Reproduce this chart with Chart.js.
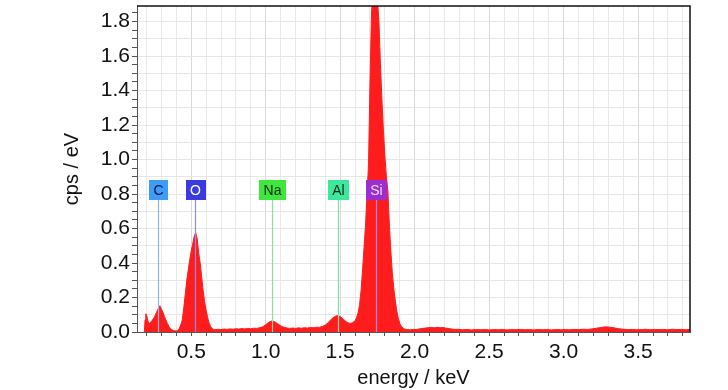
<!DOCTYPE html>
<html><head><meta charset="utf-8">
<script src="https://cdn.jsdelivr.net/npm/chart.js@4/dist/chart.umd.min.js"></script>
<style>html,body{margin:0;padding:0;background:#fff;}#wrap{width:728px;height:390px;}</style>
</head><body><div id="wrap"><canvas id="c" width="728" height="390"></canvas></div>
<script>
// ---- data ----
const energy = [
0.185,0.19,0.195,0.20,0.205,0.21,0.22,0.23,0.24,0.25,0.26,0.27,0.28,0.29,0.30,0.31,0.32,0.33,0.34,0.35,
0.36,0.37,0.38,0.39,0.40,0.41,0.42,0.43,0.44,0.45,0.46,0.47,0.48,0.49,0.50,0.51,0.52,0.53,0.54,0.55,
0.56,0.57,0.58,0.59,0.60,0.61,0.62,0.63,0.64,0.65,0.66,
0.68,0.70,0.72,0.74,0.76,0.78,0.80,0.82,0.84,0.86,0.88,0.90,0.92,0.94,0.96,
0.98,1.00,1.02,1.04,1.06,1.08,1.10,1.12,1.14,1.16,
1.18,1.20,1.22,1.24,1.26,1.28,1.30,1.32,1.34,1.36,1.38,1.40,
1.42,1.44,1.46,1.48,1.50,1.52,1.54,1.56,1.58,1.60,1.61,1.62,1.63,1.64,1.65,1.66,1.67,1.68,1.69,1.70,
1.71,1.72,1.73,1.74,1.75,1.76,1.77,1.78,1.79,1.80,1.81,1.82,1.83,1.84,1.85,1.86,1.87,1.88,1.89,1.90,
1.91,1.92,1.93,1.95,1.97,1.99,
2.01,2.03,2.05,2.07,2.09,2.11,2.13,2.15,2.17,2.19,2.21,2.23,2.25,2.27,2.29,2.32,2.35,2.38,2.41,2.44,
2.47,2.50,2.53,2.56,2.59,2.62,2.65,2.68,2.71,2.74,2.77,2.80,2.83,2.86,2.89,2.92,2.95,2.98,3.01,3.04,
3.07,3.10,3.13,3.16,3.19,3.22,3.25,3.28,3.31,3.34,3.37,3.40,3.43,3.46,3.49,3.52,3.55,3.58,3.61,3.64,
3.67,3.70,3.73,3.76,3.79,3.82,3.85
];
const cps = [
0.0,0.07,0.105,0.10,0.08,0.062,0.05,0.058,0.07,0.082,0.10,0.12,0.138,0.152,0.132,0.115,0.09,0.07,0.05,0.033,
0.02,0.013,0.009,0.007,0.006,0.01,0.02,0.042,0.07,0.14,0.22,0.30,0.36,0.42,0.47,0.51,0.555,0.575,0.54,0.46,
0.40,0.32,0.24,0.175,0.125,0.085,0.052,0.032,0.021,0.015,0.013,
0.016,0.014,0.017,0.015,0.018,0.016,0.019,0.017,0.020,0.018,0.021,0.019,0.022,0.021,0.025,
0.030,0.042,0.056,0.064,0.060,0.048,0.036,0.028,0.024,0.021,
0.023,0.021,0.024,0.022,0.025,0.023,0.026,0.025,0.028,0.027,0.032,0.040,
0.055,0.074,0.088,0.095,0.090,0.075,0.060,0.050,0.052,0.065,0.085,0.11,0.16,0.24,0.36,0.49,0.62,0.80,0.97,1.45,
1.85,1.97,2.03,2.00,1.93,1.80,1.55,1.35,1.17,1.02,0.90,0.82,0.62,0.47,0.34,0.25,0.18,0.12,0.08,0.05,
0.034,0.024,0.018,0.014,0.013,0.015,
0.014,0.018,0.020,0.023,0.025,0.027,0.024,0.027,0.025,0.026,0.022,0.020,0.017,0.015,0.016,0.013,0.015,0.012,0.014,0.013,
0.015,0.012,0.014,0.013,0.015,0.012,0.014,0.013,0.015,0.013,0.014,0.012,0.015,0.013,0.014,0.012,0.015,0.013,0.014,0.013,
0.015,0.014,0.016,0.015,0.018,0.022,0.026,0.030,0.028,0.024,0.019,0.016,0.014,0.015,0.013,0.014,0.016,0.013,0.015,0.014,
0.015,0.013,0.016,0.014,0.015,0.013,0.015
];
const elementLabels = ['C','O','Na','Al','Si'];
const elementEnergies = [0.277,0.525,1.041,1.486,1.740];
const labelLevel = 0.823;
const boxColors = ['#3d9df2','#3a3ae0','#3ee63e','#3de89a','#9a2ed0'];
const textColors = ['#10105a','#ffffff','#0a2a0a','#0a2a1a','#f6dcff'];
const lineColors = ['#8cb8e0','#8c8ce8','#8ddc9c','#7edcb0','#c58ae0'];
const xRange = [0.136, 3.848];
const yRange = [0, 1.89];
const xLabelStep = 0.5, yLabelStep = 0.2;

const FONT = "'Liberation Sans', Arial, sans-serif";
const isMult = (v, s) => Math.abs(v / s - Math.round(v / s)) < 1e-6;

const markerPlugin = {
  id: 'markers',
  afterDatasetsDraw(chart) {
    const {ctx, scales: {x, y}} = chart;
    ctx.save();
    ctx.font = "14px 'Liberation Sans', Arial, sans-serif";
    ctx.textAlign = 'center';
    ctx.textBaseline = 'middle';
    elementLabels.forEach((lab, i) => {
      const px = Math.round(x.getPixelForValue(elementEnergies[i])) + 0.5;
      const py = y.getPixelForValue(labelLevel);
      const w = Math.round(ctx.measureText(lab).width + 9);
      const h = 20;
      ctx.strokeStyle = lineColors[i];
      ctx.lineWidth = 1.2;
      ctx.beginPath();
      ctx.moveTo(px, py + h / 2);
      ctx.lineTo(px, y.getPixelForValue(0));
      ctx.stroke();
      ctx.fillStyle = boxColors[i];
      ctx.fillRect(Math.round(px - w / 2), Math.round(py - h / 2), w, h);
      ctx.fillStyle = textColors[i];
      ctx.fillText(lab, px, py + 1);
    });
    ctx.restore();
  },
  afterDraw(chart) {
    const {ctx, chartArea: a} = chart;
    ctx.save();
    ctx.strokeStyle = '#111';
    ctx.lineWidth = 1.5;
    ctx.beginPath();
    ctx.moveTo(a.left, a.top);
    ctx.lineTo(a.right, a.top);
    ctx.lineTo(a.right, a.bottom);
    ctx.stroke();
    ctx.restore();
  }
};

new Chart(document.getElementById('c'), {
  type: 'line',
  data: {
    datasets: [{
      data: energy.map((e, i) => ({x: e, y: cps[i]})),
      borderColor: 'rgb(255,28,28)',
      backgroundColor: 'rgb(255,28,28)',
      borderWidth: 1,
      pointRadius: 0,
      fill: 'origin',
      tension: 0
    }]
  },
  options: {
    responsive: false,
    animation: false,
    devicePixelRatio: 1,
    layout: {padding: {top: 6, right: 38, left: 0, bottom: 0}},
    plugins: {legend: {display: false}, tooltip: {enabled: false}},
    scales: {
      x: {
        type: 'linear',
        min: xRange[0], max: xRange[1],
        afterBuildTicks: (axis) => {
          const t = [];
          for (let k = 2; k <= 38; k++) t.push({value: k / 10});
          axis.ticks = t;
        },
        afterFit: (s) => { s.height = 58; s.paddingLeft = 0; s.paddingRight = 0; },
        grid: {
          color: (c) => c.tick && isMult(c.tick.value, xLabelStep) ? '#d9d9d9' : '#e9e9e9',
          tickColor: '#555',
          tickLength: 4,
          lineWidth: 1
        },
        border: {color: '#555', width: 1},
        ticks: {
          autoSkip: false, maxRotation: 0,
          padding: 4,
          color: '#111',
          font: {family: FONT, size: 21},
          callback: (v) => isMult(v, xLabelStep) ? Number(v).toFixed(1) : ''
        },
        title: {display: true, text: 'energy / keV', color: '#111',
          font: {family: FONT, size: 20}, padding: {top: 0, bottom: 0}}
      },
      y: {
        type: 'linear',
        min: yRange[0], max: yRange[1],
        afterBuildTicks: (axis) => {
          const t = [];
          for (let k = 0; k <= 37; k++) t.push({value: k * 0.05});
          axis.ticks = t;
        },
        afterFit: (s) => { s.width = 137; s.paddingTop = 0; s.paddingBottom = 0; },
        grid: {
          color: (c) => c.tick && isMult(c.tick.value, 0.1) ? '#e6e6e6' : 'rgba(0,0,0,0)',
          tickColor: '#555',
          tickLength: 5,
          lineWidth: 1
        },
        border: {color: '#555', width: 1},
        ticks: {
          autoSkip: false,
          padding: 2,
          color: '#111',
          font: {family: FONT, size: 21},
          callback: (v) => isMult(v, yLabelStep) ? Number(v).toFixed(1) : ''
        },
        title: {display: true, text: 'cps / eV', color: '#111',
          font: {family: FONT, size: 20}, padding: {top: 60, bottom: 0}}
      }
    }
  },
  plugins: [markerPlugin]
});
</script>
</body></html>
